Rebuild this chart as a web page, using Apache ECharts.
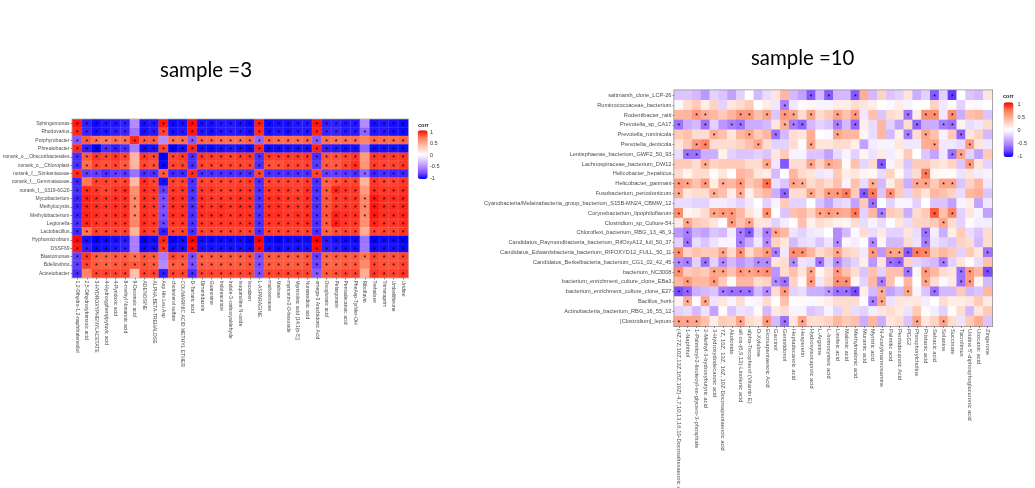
<!DOCTYPE html>
<html><head><meta charset="utf-8">
<style>html,body{margin:0;padding:0;background:#fff;overflow:hidden}#c{width:1035px;height:488px}</style>
<script src="https://cdn.jsdelivr.net/npm/echarts@6/dist/echarts.min.js"></script></head>
<body><div id="c"></div>
<script>
const leftRows = ["Sphingomonas","Rhodovarius","Porphyrobacter","Phreatobacter","norank_o__Obscuribacterales","norank_o__Chloroplast","norank_f__Simkaniaceae","norank_f__Gemmataceae","norank_f__0319-6G20","Mycobacterium","Methylocystis","Methylobacterium","Legionella","Lactobacillus","Hyphomicrobium","DSSF69","Blastomonas","Bdellovibrio","Acinetobacter"];
const leftCols = ["1,2-Dihydro-1,2-naphthalenediol","2,5-Dihydroxybenzoic acid","3-HYDROXYPHENYLACETATE","4-Hydroxyphenylpyruvic acid","4-Pyridoxic acid","8-methyl Nonanoic acid","9-Decenoic acid","ADENOSINE","ALPHA,BETA-TREHALOSE","Asp His Leu Asp","cholesterol sulfate","COUMARINIC ACID METHYL ETHER","D-Tartaric acid","Dimetridazole","Guanosine","Indoleacetate","Indole-3-carboxyaldehyde","Isoquinoline N-oxide","Isoxaben","L-ASPARAGINE","maltotetraose","Maltose","myricetin-3-O-hexoside","Myristoleic acid (14:1(n-5))","Nonanedioic acid","omega-3 Arachidonic Acid","Oxoglutaric acid","Pelargonate","Pentadecanoic acid","PheAsp-TyrMet-OH","Riboflavin","Trehalose","Trimetaprim","Umbelliferone","Uridine"];
const leftCorr = [
[.95,-.9,-.97,-.93,-.93,-.9,-.5,-.95,-.93,.95,-.97,-.95,.97,-.95,-.95,-.93,-.93,-.95,-.97,.93,-.97,-.95,-.95,-.93,-.93,.95,-.9,-.9,-.93,-.93,-.5,-.95,-.93,-.95,-.97],
[.9,-.88,-.95,-.93,-.9,-.88,-.6,-.95,-.92,.85,-.95,-.93,.95,-.93,-.95,-.93,-.92,-.93,-.95,.9,-.95,-.93,-.95,-.92,-.93,.92,-.88,-.88,-.92,-.92,-.65,-.93,-.92,-.95,-.97],
[-.7,.8,.75,.7,.75,.75,.92,.8,.8,-.5,.75,.75,-.7,.78,.78,.76,.75,.75,.78,-.65,.78,.76,.76,.76,.78,-.7,.75,.72,.75,.76,.65,.78,.76,.76,.78],
[.9,-.9,-1,-.85,-.9,-.85,-.55,-.97,-.95,.85,-1,-.95,.92,-.95,-.97,-.95,-.93,-.95,-.97,.92,-.97,-.97,-.95,-.95,-.95,.92,-.9,-.92,-.95,-.95,-.65,-.97,-.95,-.95,-.97],
[-.85,.8,.88,.85,.88,.85,.4,.88,.85,-1,.85,.88,-.85,.88,.87,.86,.85,.87,.88,-.85,.87,.87,.87,.87,.88,-.85,.82,.82,.85,.88,.55,.88,.87,.87,.88],
[-.85,.75,.85,.82,.85,.8,.42,.85,.82,-.98,.85,.85,-.85,.85,.85,.85,.85,.85,.85,-.85,.82,.82,.85,.85,.85,-.82,.8,.8,.85,.9,.58,.87,.85,.85,.88],
[.9,-.8,-.8,-.85,-.8,-.82,-.6,-.85,-.85,.8,-.87,-.87,.9,-.85,-.85,-.85,-.85,-.85,-.85,.85,-.85,-.85,-.85,-.85,-.85,.85,-.8,-.8,-.82,-.85,-.65,-.88,-.85,-.87,-.87],
[-.87,.7,.85,.85,.85,.85,.38,.9,.85,-.95,.85,.85,-.85,.85,.85,.85,.85,.85,.87,-.85,.85,.85,.85,.85,.87,-.85,.78,.82,.85,.85,.42,.88,.85,.85,.88],
[-.85,.9,.88,.85,.88,.9,.6,.9,.88,-.8,.88,.88,-.85,.88,.88,.86,.86,.88,.88,-.85,.88,.88,.88,.86,.9,-.85,.8,.92,.88,.88,.55,.9,.88,.88,.9],
[-.88,.93,.9,.88,.9,.9,.65,.9,.88,-.75,.9,.9,-.85,.9,.88,.88,.88,.9,.9,-.85,.9,.9,.88,.88,.9,-.85,.82,.88,.88,.88,.65,.95,.9,.9,.92],
[-.88,.92,.9,.88,.9,.9,.65,.9,.88,-.75,.9,.9,-.85,.9,.88,.9,.88,.9,.9,-.85,.9,.9,.88,.88,.9,-.85,.82,.88,.88,.88,.65,.95,.9,.9,.92],
[-.88,.93,.9,.88,.9,.9,.65,.9,.88,-.75,.9,.9,-.85,.9,.9,.9,.88,.9,.9,-.85,.9,.9,.88,.9,.9,-.85,.82,.93,.9,.9,.62,.95,.9,.9,.92],
[-.85,.92,.88,.88,.88,.88,.65,.9,.88,-.78,.88,.88,-.85,.88,.88,.88,.88,.88,.9,-.85,.88,.88,.88,.88,.9,-.85,.8,.93,.88,.88,.6,.92,.88,.88,.9],
[-.87,.72,.85,.85,.85,.85,.42,.88,.85,-.9,.85,.85,-.85,.85,.85,.85,.85,.85,.85,-.85,.85,.85,.85,.85,.85,-.85,.78,.82,.85,.85,.45,.85,.85,.85,.88],
[.98,-.95,-1,-.97,-.95,-.92,-.55,-1,-.97,.92,-1,-.97,1,-.97,-.97,-.97,-.97,-.97,-1,1,-.97,-1,-.97,-.97,-.97,1,-.92,-.95,-.97,-.97,-.6,-1,-.97,-.97,-1],
[.95,-.9,-.97,-.95,-.93,-.9,-.55,-.97,-.95,.88,-.97,-.95,.97,-.95,-.95,-.95,-.95,-.95,-.97,.97,-.95,-.97,-.95,-.95,-.95,.97,-.9,-.92,-.95,-.95,-.58,-.97,-.95,-.95,-.98],
[-.8,.88,.8,.78,.8,.8,.75,.82,.8,-.55,.85,.82,-.75,.8,.8,.8,.8,.8,.82,-.75,.8,.8,.8,.8,.82,-.8,.78,.8,.8,.8,.72,.85,.82,.82,.85],
[-.8,.85,.8,.78,.8,.82,.8,.82,.8,-.5,.8,.8,-.75,.8,.8,.8,.8,.8,.82,-.75,.8,.8,.8,.8,.82,-.78,.78,.78,.8,.8,.62,.85,.82,.82,.85],
[-.85,.65,.85,.85,.85,.85,.35,.85,.85,-.9,.85,.85,-.85,.85,.85,.85,.85,.85,.85,-.75,.85,.85,.85,.85,.85,-.7,.8,.82,.85,.85,.45,.88,.85,.85,.88]
];
const leftNoStar = [[6,30],[6],[9,30],[6,30],[6,30],[6,30],[6],[1,6,30],[6,30],[],[],[],[6,30],[6,30],[6,30],[6,30],[9],[9,30],[1,6,30]];

const rightRows = ["saltmarsh_clone_LCP-26","Ruminococcaceae_bacterium","Rodentibacter_ratti","Prevotella_sp_CA17","Prevotella_ruminicola","Prevotella_denticola","Lentisphaerae_bacterium_GWF2_50_93","Lachnospiraceae_bacterium_DW12","Helicobacter_hepaticus","Helicobacter_ganmani","Fusobacterium_periodonticum","Cyanobacteria/Melainabacteria_group_bacterium_S15B-MN24_CBMW_12","Corynebacterium_lipophiloflavum","Clostridium_sp_Culture-54","Chloroflexi_bacterium_RBG_13_46_9","Candidatus_Raymondbacteria_bacterium_RifOxyA12_full_50_37","Candidatus_Edwardsbacteria_bacterium_RIFOXYD12_FULL_50_11","Candidatus_Berkelbacteria_bacterium_CG1_02_42_45","bacterium_NC3008","bacterium_enrichment_culture_clone_EBa3","bacterium_enrichment_culture_clone_E27","Bacillus_horti","Actinobacteria_bacterium_RBG_16_55_12","[Clostridium]_leptum"];
const rightCols = ["(4Z,7Z,10Z,13Z,16Z,19Z)-4,7,10,13,16,19-Docosahexaenoic acid","1-Naphthol","1-Palmitoyl-2-linoleoyl-sn-glycero-3-phosphate","2-Methyl-3-hydroxybutyric acid","3-Hydroxydodecanoic acid","7Z, 10Z, 13Z, 16Z, 19Z-Docosapentaenoic acid","Akolonide","all cis-(6,9,12)-Linolenic acid","alpha-Tocopherol (Vitamin E)","D-Xylulose","Eicosapentaenoic Acid","Garcinol","Genistidonol","Heptadecanoic acid","Hesperetin","Hydroxyisocaproic acid","L-Arginine","L-homocysteic acid","Linoleic acid","Malonic acid","Methylmalonic acid","Muramic acid","Myristic acid","N-Acetylmannosamine","Palmitic acid","Pentadecanoic Acid","PGG2","Phosphorylcholine","Pristanic acid","Sebacic acid","Solanine","Succinate","Tacrolimus","Uridine 5'-diphosphoglucuronic acid","Urocanic acid","Zingerone"];
const rightCorr = [
[-.25,-.25,-.3,-.45,-.2,-.25,-.4,-.2,0,-.3,-.15,.15,.4,-.3,-.4,-.7,-.3,-.7,-.3,-.3,-.7,.45,-.3,.25,-.25,-.2,.15,-.35,-.2,-.7,-.2,-.8,0,-.25,-.3,.15],
[-.03,.2,.3,.1,.25,-.2,.15,.2,.3,0,.1,-.1,-.55,-.1,.03,.05,-.05,-.05,.1,.1,.2,.15,.1,0,-.03,.1,-.05,0,0,.25,-.1,.03,-.2,.03,-.03,0],
[.4,.42,.55,.45,.4,.3,.42,.55,.55,.35,.5,-.25,.55,.5,.2,.5,.2,.3,.5,.35,.55,-.1,.35,-.25,.2,.15,-.6,.1,.6,.6,-.1,.6,-.35,.35,.4,-.25],
[-.6,-.35,-.3,-.6,-.2,-.45,-.55,-.6,-.35,-.35,-.3,.15,.45,-.55,-.65,-.3,-.2,-.25,-.55,-.3,-.65,.1,-.15,.4,-.2,-.4,.2,-.65,-.35,-.35,-.55,-.6,.08,-.15,-.1,.2],
[.3,.35,.2,.2,.45,.35,.15,.4,.5,.3,.4,-.6,-.3,.2,.15,.45,0,-.03,.5,.4,.4,.05,-.15,.4,-.3,.08,-.55,.2,.5,.35,-.05,.3,-.65,.15,.25,-.3],
[.15,.3,.55,.65,.2,.2,.2,.25,.35,.5,.2,-.2,-.2,.2,-.02,.5,.15,.15,.2,.2,.1,-.4,-.08,-.05,-.05,.15,-.1,-.1,.45,.5,-.1,-.1,-.15,.55,.15,-.1],
[-.15,-.6,-.6,-.35,-.35,.08,-.2,-.25,-.25,-.2,-.25,.15,.3,-.05,-.05,-.25,-.25,-.4,-.15,-.05,-.2,.05,-.12,.12,-.08,.05,.3,0,-.25,-.4,-.1,-.6,.5,-.2,-.4,.3],
[.3,.3,.2,.45,.25,.3,.3,.3,.2,.2,.5,-.1,-.7,.2,.2,.5,.25,.5,.4,.03,.35,-.18,.2,-.7,-.05,.15,-.25,.3,.3,.2,.15,.25,-.25,.55,.15,-.2],
[.2,.05,.2,.2,.02,.15,0,.4,.35,.15,.1,-.3,0,.4,.2,.15,-.1,-.08,.3,.1,.15,.06,.03,-.15,.25,.03,-.2,.2,.7,.05,.02,.02,-.12,.15,-.08,-.05],
[.55,.5,.35,.55,.1,.45,.4,.55,.3,.4,.75,-.12,-.25,.5,.45,.2,.3,.2,.35,-.05,.35,-.15,.45,-.3,.1,.3,-.35,.5,.5,.3,.5,.5,-.25,.25,.4,-.1],
[.45,.15,.2,.2,.45,.35,.1,.45,.08,.3,.4,-.35,-.65,.2,.2,.5,.3,.55,.55,.7,.3,-.7,.7,-.25,.6,.3,-.2,.3,.15,.4,.35,.25,-.15,.4,.45,-.25],
[-.15,-.15,-.2,-.2,-.08,-.08,-.12,-.2,-.1,0,-.2,-.05,.3,-.2,-.2,0,-.25,-.4,-.2,-.15,-.4,.3,-.6,0,-.2,-.05,-.05,-.2,0,-.25,-.25,-.4,-.05,.1,-.4,-.1],
[.6,.05,.1,.2,.5,.55,.55,.4,.15,.05,.6,0,-.25,.35,.4,.25,.5,.55,.5,.45,.7,-.2,.4,-.55,.3,.25,-.35,.2,.3,.8,.35,.65,-.2,.15,-.05,-.4],
[.12,.5,.3,.25,.15,0,.55,.35,.5,.15,.15,-.2,-.08,0,.35,.08,.2,.15,.08,.05,.2,-.15,-.05,-.15,0,.15,-.15,.25,.25,.3,.5,.2,-.2,.03,-.08,-.08],
[-.45,-.55,-.35,-.4,-.25,-.3,-.08,-.55,-.7,-.2,-.55,.5,.4,-.12,-.2,-.1,-.08,0,-.5,-.3,-.03,.2,-.15,.12,-.2,-.2,.15,-.15,-.6,-.08,-.35,.1,.3,-.15,-.25,.2],
[-.2,-.6,-.15,-.25,-.12,-.05,-.05,-.55,-.35,-.1,-.5,.25,.15,-.3,-.15,-.12,-.25,-.12,-.5,-.03,-.08,.02,-.5,.05,-.3,-.3,.2,-.12,-.55,-.12,-.2,-.25,.25,.2,-.3,.2],
[.6,.25,.35,.3,.3,.5,.2,.6,.2,.4,.55,-.55,-.1,.6,.6,.4,.2,.3,.5,.25,.2,-.1,.55,-.45,.5,.5,-.7,.7,.65,.3,.4,.3,-.2,.3,.15,-.6],
[-.5,-.55,-.2,-.6,-.2,-.5,-.3,-.45,-.35,-.5,-.5,.15,.2,-.5,-.12,-.15,-.6,-.2,-.5,-.3,-.2,.1,-.45,.15,-.6,-.65,.25,-.2,-.25,-.3,-.55,-.2,.15,.02,-.15,.35],
[.6,.3,.35,.3,.5,.5,.35,.55,.5,.55,.6,-.45,.2,.35,.15,.5,.05,.2,.55,.35,.2,-.25,.35,-.2,.35,.35,-.6,.06,.55,.4,.2,.15,-.6,.55,.4,-.75],
[.4,.55,.4,.4,.55,.3,.03,.4,.4,.2,.25,-.5,-.6,.25,.03,.55,-.1,.25,.6,.6,.05,-.2,.4,-.55,.35,0,.4,0,.5,.2,-.03,.12,-.6,.55,.05,-.3],
[-.75,-.65,-.35,-.3,-.25,-.55,-.6,-.6,-.6,-.3,-.5,.2,.55,-.2,-.15,-.35,-.35,-.45,-.6,-.6,-.75,.1,-.3,.45,-.4,-.3,.5,-.05,-.25,-.6,-.3,-.3,.3,-.3,-.25,.4],
[.08,.45,.03,.5,-.12,.15,-.05,.2,-.03,-.05,.2,0,.35,0,.03,-.03,.05,.1,.2,.2,.2,-.02,-.55,.5,-.12,.15,.12,.15,-.08,0,.2,.1,.1,.15,.3,.12],
[-.2,-.15,-.3,-.12,-.4,.03,-.25,-.12,-.15,.03,-.3,.12,.2,-.05,-.05,-.25,-.2,-.05,-.2,.2,-.15,-.2,-.08,.15,.2,.12,-.12,.3,.02,-.08,-.2,.02,.2,-.3,.15,.3],
[.5,.5,.5,.35,.1,.3,.25,.5,.2,.15,.55,-.3,-.6,.15,.5,.2,.2,.25,.4,.3,.35,-.35,.4,-.35,.15,.2,-.25,.5,.15,.25,.5,.2,-.12,.3,.45,-.25]
];
const rightStars = [
[15,17,20,29,31],[12],[2,3,7,8,10,12,13,15,18,20,26,28,29,31],[0,3,6,7,12,13,14,18,20,27,30,31],[4,8,11,18,26,28,32],[2,3,9,15,29,33],[1,2,31,32],[3,10,15,17,23,33],[28],[0,1,3,5,7,10,13,14,22,27,28,30,31],[0,4,7,12,15,17,18,19,21,22,24],[22],
[0,4,5,6,10,16,17,18,20,23,29,31],[1,6,8,30],[1,7,8,10,11,28],[1,7,10,18,22,28],[0,5,7,10,11,13,14,18,22,24,25,26,27,28,35],[0,1,3,5,9,10,13,16,18,24,25,30],[0,4,5,7,8,9,10,15,18,26,28,32,33,35],[1,4,11,12,15,18,19,23,28,32,33],[0,1,5,6,7,8,10,12,17,18,19,20,23,26,29],[1,3,22,23],[],[0,1,2,7,10,12,14,27,30]
];
const legendTicks = ["1","0.5","0","-0.5","-1"];
const legendTitle = "corr";
const titles = ["sample =3","sample =10"];

function cells(corr, starAt){
  const out=[];
  corr.forEach((row,y)=>row.forEach((v,x)=>out.push([x,y,v,starAt(y,x)?1:0])));
  return out;
}
const leftData = cells(leftCorr,(y,x)=>!leftNoStar[y].includes(x));
const rightData = cells(rightCorr,(y,x)=>rightStars[y].includes(x));

const ramp=['#0000FF','#7A4CFF','#B38BFF','#DCC5FF','#FFFFFF','#FFD3C4','#FFA58A','#FF6F4E','#FF0000'];
const tickStyle={show:true,alignWithLabel:true,length:2,lineStyle:{color:'#444',width:.6}};
function xAx(i,names,fs){return {type:'category',gridIndex:i,data:names,position:'bottom',
  axisLine:{show:false},axisTick:tickStyle,splitLine:{show:false},
  axisLabel:{interval:0,rotate:-90,fontSize:fs,color:'#4d4d4d',fontFamily:'Liberation Sans',margin:3,hideOverlap:false}};}
function yAx(i,names,fs){return {type:'category',gridIndex:i,data:names,inverse:true,
  axisLine:{show:false},axisTick:tickStyle,splitLine:{show:false},
  axisLabel:{interval:0,fontSize:fs,color:'#4d4d4d',fontFamily:'Liberation Sans',margin:3}};}
function hm(i,data,fs,dy,bw){return {type:'heatmap',xAxisIndex:i,yAxisIndex:i,data,progressive:0,animation:false,
  encode:{x:0,y:1,value:2},
  itemStyle:{borderColor:'rgba(255,255,255,.25)',borderWidth:bw},
  emphasis:{disabled:true},
  label:{show:true,fontSize:fs,color:'#000',fontFamily:'Liberation Sans',offset:[0,dy],formatter:p=>p.value[3]?'*':''}};}
function bar(i,left,top,h){return {type:'continuous',seriesIndex:i,dimension:2,min:-1,max:1,calculable:false,padding:0,
  left,top,itemWidth:10,itemHeight:h,orient:'vertical',text:['',''],inRange:{color:ramp},hoverLink:false};}
function legendText(x,titleX,yTop,yBot,titleY){
  const g=[{type:'text',left:titleX,top:titleY-3,style:{text:legendTitle,font:'bold 5.5px Liberation Sans',fill:'#222'}}];
  legendTicks.forEach((t,k)=>g.push({type:'text',left:x,top:yTop+(yBot-yTop)*k/4-3,style:{text:t,font:'5.5px Liberation Sans',fill:'#333'}}));
  return g;
}
const chart=echarts.init(document.getElementById('c'),null,{renderer:'canvas'});
chart.setOption({animation:false,backgroundColor:'#fff',
  title:[
   {text:titles[0],left:155,top:55,textStyle:{fontFamily:'Lato',fontWeight:'normal',fontSize:20.5,color:'#000'}},
   {text:titles[1],left:746,top:43,textStyle:{fontFamily:'Lato',fontWeight:'normal',fontSize:20.4,color:'#000'}}],
  tooltip:{show:false},
  grid:[
   {left:72.5,top:119.5,width:335.5,height:158,show:true,borderColor:'#bdbdbd',borderWidth:2,outerBoundsMode:'none'},
   {left:674.5,top:90.5,width:317.5,height:235.5,show:true,borderColor:'#8c8c8c',borderWidth:2,outerBoundsMode:'none'}],
  xAxis:[xAx(0,leftCols,5.05),xAx(1,rightCols,5.8)],
  yAxis:[yAx(0,leftRows,5),yAx(1,rightRows,5.65)],
  visualMap:[bar(0,417.7,130.3,48.7),bar(1,1003.5,102.3,54.7)],
  series:[hm(0,leftData,7,1.5,.4),hm(1,rightData,7,1.5,0)],
  graphic:legendText(430,418,132.3,178,125.5).concat(legendText(1017.5,1003,104,156.7,96.7))
});
</script></body></html>
